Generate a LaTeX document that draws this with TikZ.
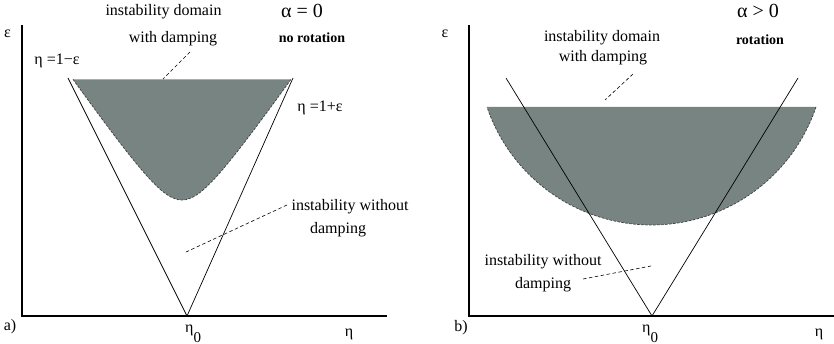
\documentclass[tikz,border=0pt]{standalone}
\usepackage{fontspec}
\setmainfont{Liberation Serif}
\newfontfamily\figserif{Liberation Serif}
\definecolor{shadegray}{RGB}{119,132,129}
\begin{document}
\begin{tikzpicture}[x=1pt,y=-1pt,
  txt/.style={font=\figserif\fontsize{16}{18}\selectfont, inner sep=0pt},
  boldtxt/.style={font=\figserif\fontsize{14}{16}\selectfont\bfseries, inner sep=0pt},
  bigtxt/.style={font=\figserif\fontsize{20}{22}\selectfont, inner sep=0pt},
  axisline/.style={line width=1.4pt},
  vline/.style={line width=0.7pt},
  leader/.style={dash pattern=on 3.5pt off 2.5pt, line width=0.6pt},
  bound/.style={dash pattern=on 2.5pt off 1.5pt, line width=0.7pt, draw=black!75}]
\useasboundingbox (0,0) rectangle (834,344);

% ---------------- panel a ----------------
\fill[shadegray] plot[domain=-109:109, samples=90] ({182+\x},{240-10*sqrt(16+0.02037*\x*\x)}) -- cycle;
\draw[bound] plot[domain=-109:109, samples=90] ({182+\x},{240-10*sqrt(16+0.02037*\x*\x)});

\coordinate (LT) at (22,25);
\coordinate (LO) at (22,316);
\coordinate (LX) at (387,316);
\coordinate (LV) at (187,316);
\coordinate (LA) at (68,78);
\coordinate (LB) at (293,78);
\draw[axisline] (LT) -- (LO) -- (LX);
\draw[vline] (LA) -- (LV) -- (LB);

\node[txt] (leps) at (7.5,34) {ε};
\node[txt] (la) at (10,327) {a)};
\node[txt, anchor=base west] (leta0) at (185,332) {η\raisebox{-10pt}{\fontsize{15}{15}\selectfont 0}};
\node[txt] (leta) at (349,334) {η};
\node[txt] (ldom1) at (163.5,12) {instability domain};
\node[txt] (ldom2) at (173,39) {with damping};
\node[bigtxt] (lalpha) at (302,11) {α = 0};
\node[boldtxt] (lrot) at (312,38) {no rotation};
\node[txt] (lm) at (57,61) {η =1−ε};
\node[txt] (lp) at (320,108) {η =1+ε};
\node[txt] (lwo1) at (350,207) {instability without};
\node[txt] (lwo2) at (338,230) {damping};

\coordinate (lq1) at (190,52);
\coordinate (lq2) at (163,79);
\coordinate (lr1) at (287,205);
\coordinate (lr2) at (186,252);
\draw[leader] (lq1) -- (lq2);
\draw[leader] (lr1) -- (lr2);

% ---------------- panel b ----------------
\fill[shadegray] plot[domain=18.7:161.3, samples=90] ({651.5+173.7*cos(\x)},{51.3+173.7*sin(\x)}) -- cycle;
\draw[bound] plot[domain=18.7:161.3, samples=90] ({651.5+173.7*cos(\x)},{51.3+173.7*sin(\x)});

\coordinate (RT) at (469,25);
\coordinate (RO) at (469,316);
\coordinate (RX) at (834,316);
\coordinate (RV) at (652,316);
\coordinate (RA) at (506,78);
\coordinate (RB) at (798,78);
\draw[axisline] (RT) -- (RO) -- (RX);
\draw[vline] (RA) -- (RV) -- (RB);

\node[txt] (reps) at (445,34) {ε};
\node[txt] (rb) at (461,328) {b)};
\node[txt, anchor=base west] (reta0) at (642,332) {η\raisebox{-10pt}{\fontsize{15}{15}\selectfont 0}};
\node[txt] (reta) at (819,334) {η};
\node[txt] (rdom1) at (602,38) {instability domain};
\node[txt] (rdom2) at (603,58) {with damping};
\node[bigtxt] (ralpha) at (758,11) {α > 0};
\node[boldtxt] (rrot) at (760,40) {rotation};
\node[txt] (rwo1) at (543,262) {instability without};
\node[txt] (rwo2) at (543,285) {damping};

\coordinate (rq1) at (633,74);
\coordinate (rq2) at (605,100);
\coordinate (rr1) at (583,279);
\coordinate (rr2) at (651,266);
\draw[leader] (rq1) -- (rq2);
\draw[leader] (rr1) -- (rr2);
\end{tikzpicture}
\end{document}
